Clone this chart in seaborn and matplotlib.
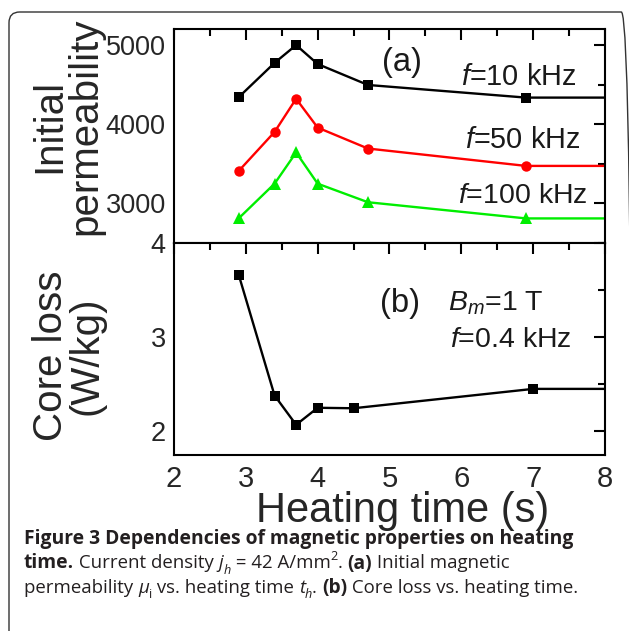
import matplotlib
matplotlib.use("Agg")
import matplotlib.pyplot as plt
import seaborn as sns
from matplotlib.patches import FancyBboxPatch
from matplotlib.ticker import MultipleLocator

# ---------------- data ----------------
t_perm = [2.9, 3.4, 3.7, 4.0, 4.7, 6.9]
mu_10k = [4340, 4775, 5000, 4760, 4495, 4335]
mu_50k = [3405, 3900, 4320, 3955, 3690, 3470]
mu_100k = [2805, 3245, 3640, 3245, 3010, 2805]
t_loss = [2.9, 3.4, 3.7, 4.0, 4.5, 7.0]
core_loss = [3.66, 2.38, 2.07, 2.25, 2.245, 2.45]
x_end = 8.0
series_labels = ["$f$=10 kHz", "$f$=50 kHz", "$f$=100 kHz"]
x_ticks = [2, 3, 4, 5, 6, 7, 8]
perm_ticks = [3000, 4000, 5000]
loss_ticks = [2, 3, 4]

W, H = 629, 631
sns.set_style("white")
plt.rcParams.update({
    "font.family": ["Liberation Sans", "DejaVu Sans"],
    "mathtext.fontset": "custom",
    "mathtext.rm": "Liberation Sans",
    "mathtext.it": "Liberation Sans:italic",
    "mathtext.bf": "Liberation Sans:bold",
    "axes.linewidth": 1.5,
    "axes.edgecolor": "black",
    "text.color": "#1a1a1a",
})

fig = plt.figure(figsize=(W / 100, H / 100), dpi=100)
L, R = 174, 605
T1, M, B2 = 29.3, 242.5, 455
ax1 = fig.add_axes([L / W, 1 - M / H, (R - L) / W, (M - T1) / H])
ax2 = fig.add_axes([L / W, 1 - B2 / H, (R - L) / W, (B2 - M) / H])

n = len(t_perm)
for vals, col, mk, ms in [(mu_10k, "black", "s", 6.5),
                          (mu_50k, "#ff0000", "o", 7.5),
                          (mu_100k, "#00ee00", "^", 8.5)]:
    sns.lineplot(x=t_perm + [x_end], y=vals + [vals[-1]], ax=ax1, color=col,
                 marker=mk, markersize=ms, markeredgewidth=0, linewidth=1.7,
                 markevery=list(range(n)), sort=False)

sns.lineplot(x=t_loss + [x_end], y=core_loss + [core_loss[-1]], ax=ax2,
             color="black", marker="s", markersize=6.5, markeredgewidth=0,
             linewidth=1.7, markevery=list(range(len(t_loss))), sort=False)

for ax in (ax1, ax2):
    ax.set_xlim(2, 8)
    ax.set_xticks(x_ticks)
    ax.xaxis.set_minor_locator(MultipleLocator(0.5))
    ax.tick_params(which="both", direction="in", top=True, right=True,
                   width=1.5, color="black")
    ax.tick_params(which="major", length=8)
    ax.tick_params(which="minor", length=5)
    ax.tick_params(axis="y", labelsize=19.5, pad=6)
    ax.set_xlabel("")
    ax.set_ylabel("")

ax1.set_ylim(2500, 5200)
ax1.set_yticks(perm_ticks)
ax1.yaxis.set_minor_locator(MultipleLocator(500))
ax1.tick_params(axis="x", labelbottom=False)

ax2.set_ylim(1.75, 4.0)
ax2.set_yticks(loss_ticks)
ax2.yaxis.set_minor_locator(MultipleLocator(0.5))
ax2.tick_params(axis="x", labelsize=21, pad=7)

ax1.set_ylabel("Initial\npermeability", fontsize=29, linespacing=0.92, va="center")
ax1.yaxis.set_label_coords(-0.248, 0.545)
ax2.set_ylabel("Core loss\n(W/kg)", fontsize=29, linespacing=0.92, va="center")
ax2.yaxis.set_label_coords(-0.245, 0.465)
ax2.set_xlabel("Heating time (s)", fontsize=30, va="baseline")
ax2.xaxis.set_label_coords(0.53, -0.316)

# annotations
ax1.text(5.17, 4775, "(a)", fontsize=23.5, ha="center", va="center")
ax1.text(6.0, 4600, series_labels[0], fontsize=20.8, ha="left", va="center")
ax1.text(6.05, 3795, series_labels[1], fontsize=20.8, ha="left", va="center")
ax1.text(5.95, 3095, series_labels[2], fontsize=20.5, ha="left", va="center")
ax2.text(5.15, 3.355, "(b)", fontsize=23.5, ha="center", va="center")
ax2.text(5.81, 3.355, "$B_m$=1 T", fontsize=20.5, ha="left", va="center")
ax2.text(5.84, 2.965, "$f$=0.4 kHz", fontsize=20.5, ha="left", va="center")

# frame around the figure panel
frame = FancyBboxPatch((9 / W, -0.2), (632 - 9) / W, 1.2 - 12 / H,
                       boxstyle="round,pad=0,rounding_size=0.017",
                       transform=fig.transFigure, facecolor="none",
                       edgecolor="#333333", linewidth=1.0, clip_on=False)
fig.add_artist(frame)

# caption with mixed styles
renderer = fig.canvas.get_renderer()
cap_fs_bold = 13.9
cap_fs_reg = 13.4
cap_font = ["Open Sans", "DejaVu Sans"]
cap_col = "#231f20"


def piece_width(s, **kw):
    t = fig.text(0, 0, "|" + s + "|", **kw)
    w = t.get_window_extent(renderer).width
    t.remove()
    t = fig.text(0, 0, "||", **kw)
    w0 = t.get_window_extent(renderer).width
    t.remove()
    return w - w0


def caption_line(pieces, x0, baseline):
    x = x0
    for s, weight, style, pos in pieces:
        base = cap_fs_bold if weight == "bold" else cap_fs_reg
        fs = base * (0.68 if pos else 1.0)
        dy = {None: 0.0, "sub": -0.28 * base * 1.389, "sup": 0.45 * base * 1.389}[pos]
        kw = dict(fontsize=fs, fontweight=weight, fontstyle=style,
                  family=cap_font, color=cap_col, va="baseline", ha="left")
        fig.text(x / W, 1 - (baseline - dy) / H, s, **kw)
        x += piece_width(s, **kw)


cap_lines = [
    [("Figure 3 Dependencies of magnetic properties on heating", "bold", "normal", None)],
    [("time.", "bold", "normal", None), (" Current density ", "normal", "normal", None),
     ("j", "normal", "italic", None), ("h", "normal", "italic", "sub"),
     (" = 42 A/mm", "normal", "normal", None), ("2", "normal", "normal", "sup"),
     (". ", "normal", "normal", None), ("(a)", "bold", "normal", None),
     (" Initial magnetic", "normal", "normal", None)],
    [("permeability ", "normal", "normal", None), ("\u03bc", "normal", "italic", None),
     ("i", "normal", "normal", "sub"), (" vs. heating time ", "normal", "normal", None),
     ("t", "normal", "italic", None), ("h", "normal", "italic", "sub"),
     (". ", "normal", "normal", None), ("(b)", "bold", "normal", None),
     (" Core loss vs. heating time.", "normal", "normal", None)],
]
for i, pieces in enumerate(cap_lines):
    caption_line(pieces, 24, 544 + 24.5 * i)

fig.savefig("out.png", dpi=100)
